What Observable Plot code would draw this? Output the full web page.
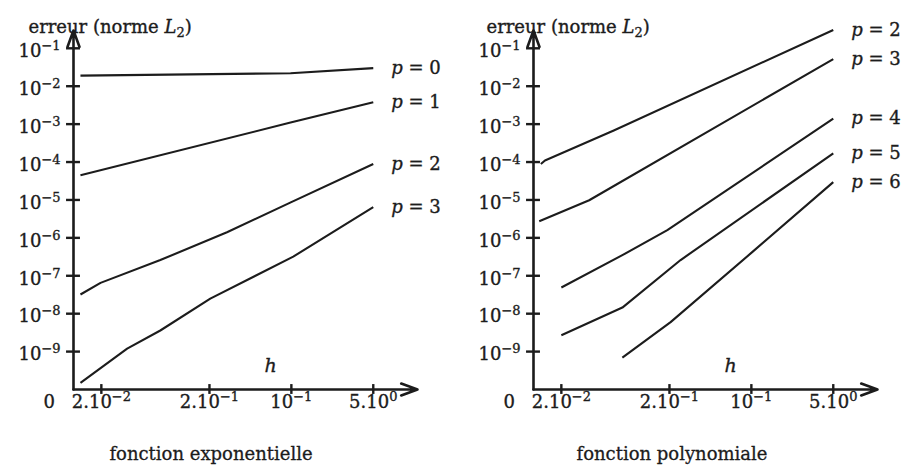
<!DOCTYPE html>
<html>
<head>
<meta charset="utf-8">
<script src="https://cdn.jsdelivr.net/npm/d3@7"></script>
<script src="https://cdn.jsdelivr.net/npm/@observablehq/plot@0.6"></script>
<style>
  html, body { margin: 0; padding: 0; background: #ffffff; }
  #root { position: relative; width: 903px; height: 467px; font-family: "DejaVu Serif", serif; color: #1c1c1c; }
  #panels { display: flex; }
  #panels svg text { stroke: #1c1c1c; stroke-width: 0.35px; }
  .caption { position: absolute; top: 443px; font-size: 18px; transform: translateX(-50%); white-space: nowrap; -webkit-text-stroke: 0.3px #1c1c1c; }
</style>
</head>
<body>
<div id="root">
  <div id="panels"></div>
</div>
<script>
// ---------- axes ----------
const yTicks = [1e-1, 1e-2, 1e-3, 1e-4, 1e-5, 1e-6, 1e-7, 1e-8, 1e-9];
const yTickLabels = ["10^{−1}", "10^{−2}", "10^{−3}", "10^{−4}", "10^{−5}", "10^{−6}", "10^{−7}", "10^{−8}", "10^{−9}"];
const xTicks = [0.34, 1.66, 2.66, 3.66];
const xTickLabels = ["2.10^{−2}", "2.10^{−1}", "10^{−1}", "5.10^{0}"];
const xDomain = [0, 4.2];
const yDomain = [1e-10, 0.295];
const yAxisTitle = "erreur (norme *L*_{2})";
const xAxisTitle = "*h*";
const originLabel = "0";
const captions = ["fonction exponentielle", "fonction polynomiale"];

// ---------- left panel: fonction exponentielle ----------
const expOrders = [0, 1, 2, 3];
const expH0 = [0.085, 2.65, 3.66];
const expE0 = [1.9e-2, 2.2e-2, 3.0e-2];
const expH1 = [0.085, 2.65, 3.66];
const expE1 = [4.5e-5, 1.1e-3, 3.8e-3];
const expH2 = [0.085, 0.33, 1.06, 1.874, 2.646, 3.66];
const expE2 = [3.2e-8, 6.5e-8, 2.6e-7, 1.4e-6, 8.5e-6, 8.9e-5];
const expH3 = [0.085, 0.655, 1.06, 1.67, 2.683, 3.66];
const expE3 = [1.5e-10, 1.2e-9, 3.6e-9, 2.5e-8, 3.2e-7, 6.5e-6];

// ---------- right panel: fonction polynomiale ----------
const polOrders = [2, 3, 4, 5, 6];
const polH2 = [0.09, 0.14, 0.98, 3.66];
const polE2 = [8.9e-5, 1.1e-4, 6.8e-4, 3.05e-1];
const polH3 = [0.07, 0.68, 3.66];
const polE3 = [2.75e-6, 9.8e-6, 5.2e-2];
const polH4 = [0.34, 1.085, 1.634, 3.66];
const polE4 = [4.9e-8, 3.5e-7, 1.6e-6, 1.4e-3];
const polH5 = [0.34, 1.085, 1.796, 3.66];
const polE5 = [2.7e-9, 1.45e-8, 2.6e-7, 1.7e-4];
const polH6 = [1.085, 1.674, 2.67, 3.66];
const polE6 = [6.9e-10, 6.0e-9, 4.2e-7, 2.95e-5];

function rows(orders, hs, es) {
  const out = [];
  orders.forEach((p, i) => hs[i].forEach((h, j) => out.push({p, h, err: es[i][j]})));
  return out;
}
const expRows = rows(expOrders, [expH0, expH1, expH2, expH3], [expE0, expE1, expE2, expE3]);
const polRows = rows(polOrders, [polH2, polH3, polH4, polH5, polH6], [polE2, polE3, polE4, polE5, polE6]);

const INK = "#1c1c1c";

function panel(data, o) {
  return Plot.plot({
    width: o.width,
    height: 425,
    marginLeft: o.marginLeft,
    marginRight: o.width - o.marginLeft - 344,
    marginTop: 30,
    marginBottom: 36,
    style: {fontFamily: "DejaVu Serif, serif", fontSize: "18px", color: INK, background: "transparent", overflow: "visible"},
    x: {type: "linear", domain: xDomain, axis: null},
    y: {type: "log", domain: yDomain, axis: null},
    marks: [
      // axes with arrow heads
      Plot.arrow([0], {x1: () => xDomain[0], y1: () => yDomain[0], x2: () => xDomain[0], y2: () => yDomain[1],
        stroke: INK, strokeWidth: 2.6, headLength: 10, headAngle: 40}),
      Plot.arrow([0], {x1: () => xDomain[0], y1: () => yDomain[0], x2: () => xDomain[1], y2: () => yDomain[0],
        stroke: INK, strokeWidth: 2.6, headLength: 10, headAngle: 40}),
      // ticks crossing the axes
      Plot.ruleY(yTicks, {y: d => d, x1: -0.085, x2: 0.085, stroke: INK, strokeWidth: 2.4}),
      Plot.ruleX(xTicks, {x: d => d, y1: 10 ** -10.13, y2: 10 ** -9.87, stroke: INK, strokeWidth: 2.4}),
      // tick labels
      Plot.text(yTicks, {x: 0, y: d => d, text: (d, i) => yTickLabels[i], textAnchor: "end", dx: -13, dy: 3, fill: INK}),
      Plot.text(xTicks, {x: d => d, text: (d, i) => xTickLabels[i], frameAnchor: "bottom", dy: 18, fill: INK}),
      Plot.text([originLabel], {text: d => d, frameAnchor: "bottom-left", dx: -30, dy: 18, fill: INK}),
      Plot.text([xAxisTitle], {text: d => d, frameAnchor: "bottom-left", dx: 191, dy: -18, fontSize: 19, fill: INK}),
      Plot.text([yAxisTitle], {text: d => d, frameAnchor: "top-left", textAnchor: "start", dx: o.titleDx, dy: -10, fontSize: 18, fill: INK}),
      // curves
      Plot.line(data, {x: "h", y: "err", z: "p", stroke: INK, strokeWidth: 2.1, strokeLinejoin: "round", strokeLinecap: "butt"}),
      Plot.text(data, Plot.selectLast({x: "h", y: "err", z: "p", text: d => `*p* = ${d.p}`, textAnchor: "start", dx: 18, fontSize: 18, fill: INK}))
    ]
  });
}

// turn ^{..} _{..} *..* markup into tspans
const SVGNS = "http://www.w3.org/2000/svg";
function enrich(root) {
  root.querySelectorAll("text").forEach(el => {
    if (el.querySelector("tspan")) return;
    const s = el.textContent;
    if (!/[\^_*]/.test(s)) return;
    el.textContent = "";
    let shift = 0;
    const re = /\^\{([^}]*)\}|_\{([^}]*)\}|\*([^*]*)\*|([^\^_*]+)/g;
    let m;
    while ((m = re.exec(s))) {
      const ts = document.createElementNS(SVGNS, "tspan");
      let target = 0, str;
      if (m[1] !== undefined) { target = -7; ts.setAttribute("font-size", "0.72em"); str = m[1]; }
      else if (m[2] !== undefined) { target = 4; ts.setAttribute("font-size", "0.72em"); str = m[2]; }
      else if (m[3] !== undefined) { ts.setAttribute("font-style", "italic"); str = m[3]; }
      else str = m[4];
      if (target - shift !== 0) ts.setAttribute("dy", target - shift);
      shift = target;
      ts.textContent = str;
      el.appendChild(ts);
    }
  });
}

const holder = document.getElementById("panels");
const left = panel(expRows, {width: 450, marginLeft: 73, titleDx: -45});
const right = panel(polRows, {width: 453, marginLeft: 83, titleDx: -47});
holder.appendChild(left);
holder.appendChild(right);
enrich(left);
enrich(right);

const root = document.getElementById("root");
[[captions[0], 211], [captions[1], 672]].forEach(([t, cx]) => {
  const d = document.createElement("div");
  d.className = "caption";
  d.style.left = cx + "px";
  d.textContent = t;
  root.appendChild(d);
});
</script>
</body>
</html>
